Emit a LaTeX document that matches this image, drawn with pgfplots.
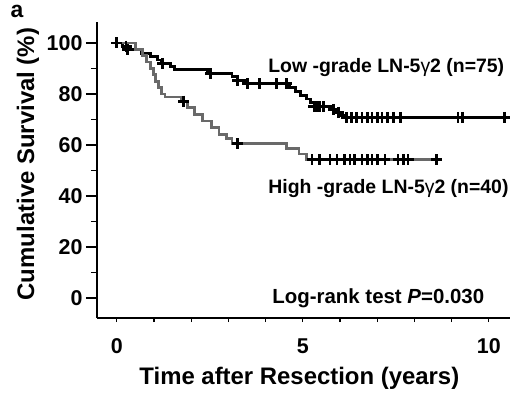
\documentclass[border=0pt]{standalone}
\usepackage{pgfplots}
\pgfplotsset{compat=1.18}
\usepackage{fontspec}
\setmainfont{Liberation Sans}
\definecolor{hg}{RGB}{105,105,105}
\newcommand{\tickfont}{\bfseries\fontsize{21.5}{23}\selectfont}
\newcommand{\labfont}{\bfseries\fontsize{24}{26}\selectfont}
\newcommand{\annfont}{\bfseries\fontsize{19.5}{21}\selectfont}
\pgfplotsset{base/.style={
  at={(0,0)}, anchor=south west,
  scale only axis, width=413bp, height=296bp,
  xmin=-0.53, xmax=10.57, ymin=-7.8, ymax=108.2,
  tick align=outside,
  major tick style={line width=1.2bp, black},
  minor tick style={line width=1.2bp, black},
  /pgf/number format/assume math mode=true,
  tick label style={font=\tickfont},
  label style={font=\labfont},
  clip=false}}
\begin{document}
\begin{tikzpicture}
\path[use as bounding box] (-97bp,-76bp) rectangle (425bp,318bp);
% y axis with its ticks
\begin{axis}[base,
  axis x line=none, axis y line*=left,
  axis line style={line width=1.4bp, black},
  ytick={0,20,40,60,80,100}, minor ytick={10,30,50,70,90},
  major tick length=11bp, minor tick length=6bp,
  yticklabel style={xshift=0bp},
  ylabel={Cumulative Survival (\%)},
  ylabel style={at={(axis description cs:-0.167,0.52)}, anchor=center},
]
\end{axis}
\begin{axis}[base,
  axis x line*=bottom, axis y line=none,
  axis line style={line width=1.4bp, black},
  xtick={0,5,10}, minor xtick={1,2,3,4,6,7,8,9},
  major tick length=4bp, minor tick length=4bp,
  xticklabel style={yshift=-13bp},
  xlabel={Time after Resection (years)},
  xlabel style={at={(axis description cs:0.49,-0.205)}, anchor=center},
]
% Low-grade (black)
\addplot[const plot, black, line width=2.8bp] coordinates {
(0,100) (0.15,98.7) (0.35,97.3) (0.65,96) (0.9,94.7) (1.1,93.3) (1.2,92)
(1.45,90.7) (1.55,89.5) (2.45,88) (3.1,86.7) (3.25,85.3) (3.45,84)
(4.65,82.5) (4.8,81) (4.95,79.5) (5.1,78) (5.2,76.5) (5.3,75)
(5.75,74) (5.9,72.8) (6.05,71.6) (6.15,70.8) (10.43,70.8)};
% High-grade (grey)
\addplot[const plot, hg, line width=2.8bp] coordinates {
(0,100) (0.5,97.5) (0.7,95) (0.8,92.5) (0.9,90) (0.98,87.5) (1.05,85)
(1.12,82.5) (1.2,80) (1.3,78.8) (1.75,77.2) (1.9,74.6) (2.1,72) (2.3,69.4)
(2.55,66.8) (2.75,64.2) (2.95,62.5) (3.1,60.5) (4.57,58.5) (4.9,56.5)
(5.1,54.2) (8.6,54.2)};
% censor marks
\addplot[only marks, mark=+, mark size=5.5bp, black, mark options={line width=2.8bp}] coordinates {
(0,100) (0.25,98.7) (0.3,97.3) (1.24,92) (2.53,88) (3.25,85.3)
(3.52,84) (3.84,84) (4.3,84) (4.57,84)
(5.3,75) (5.38,75) (5.46,75) (5.55,75) (5.82,74) (5.95,72.8)
(6.18,70.8) (6.32,70.8) (6.45,70.8) (6.59,70.8) (6.73,70.8) (6.86,70.8)
(7.0,70.8) (7.13,70.8) (7.27,70.8) (7.43,70.8) (7.62,70.8) (9.17,70.8) (9.3,70.8) (10.43,70.8)};
\addplot[only marks, mark=+, mark size=5.5bp, black, mark options={line width=2.8bp}] coordinates {
(1.8,77.2) (3.25,60.5)
(5.25,54.2) (5.46,54.2) (5.73,54.2) (5.92,54.2) (6.13,54.2) (6.27,54.2)
(6.4,54.2) (6.59,54.2) (6.73,54.2) (6.86,54.2) (7.0,54.2) (7.21,54.2)
(7.56,54.2) (7.7,54.2) (7.83,54.2) (8.6,54.2)};
\node[anchor=west, font=\annfont, inner sep=0pt] at (axis cs:4.07,90.2) {Low -grade LN-5\textmd{γ}2 (n=75)};
\node[anchor=west, font=\annfont, inner sep=0pt] at (axis cs:4.07,43.1) {High -grade LN-5\textmd{γ}2 (n=40)};
\node[anchor=west, font=\bfseries\fontsize{20.5}{22}\selectfont, inner sep=0pt] at (axis cs:4.18,0) {Log-rank test \textit{P}=0.030};
\node[anchor=center, font=\bfseries\fontsize{23}{24}\selectfont, inner sep=0pt] at (axis description cs:-0.194,1.036) {a};
\end{axis}
\end{tikzpicture}
\end{document}
